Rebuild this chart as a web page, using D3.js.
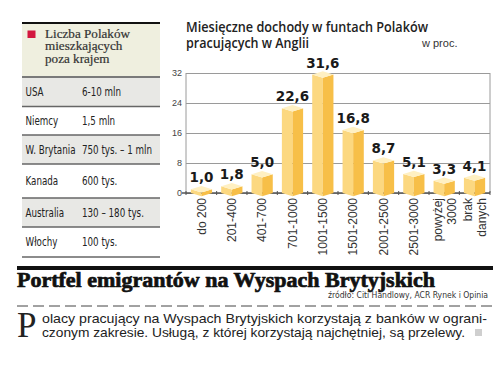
<!DOCTYPE html>
<html><head><meta charset="utf-8">
<script src="https://cdn.jsdelivr.net/npm/d3@7"></script>
<style>
html,body{margin:0;padding:0;background:#fff;}
svg{display:block;}
</style></head>
<body>
<svg id="c" width="500" height="376"></svg>
<script>
// ---- data ----
const categories = [["do 200"],["201-400"],["401-700"],["701-1000"],["1001-1500"],["1501-2000"],["2001-2500"],["2501-3000"],["powyżej","3000"],["brak","danych"]];
const values = [1.0, 1.8, 5.0, 22.6, 31.6, 16.8, 8.7, 5.1, 3.3, 4.1];
const yTicks = [0, 8, 16, 24, 32];
const countries = ["USA","Niemcy","W. Brytania","Kanada","Australia","Włochy"];
const counts = ["6-10 mln","1,5 mln","750 tys. – 1 mln","600 tys.","130 – 180 tys.","100 tys."];
const tableTitle = ["Liczba Polaków","mieszkających","poza krajem"];
const chartTitle = ["Miesięczne dochody w funtach Polaków","pracujących w Anglii"];
const unitLabel = "w proc.";
const headline = "Portfel emigrantów na Wyspach Brytyjskich";
const source = "źródło: Citi Handlowy, ACR Rynek i Opinia";
const bodyLines = ["olacy pracujący na Wyspach Brytyjskich korzystają z banków w ograni-","czonym zakresie. Usługą, z której korzystają najchętniej, są przelewy."];
const dropCap = "P";

const svg = d3.select("#c");
const narrow = "'Liberation Sans Narrow','DejaVu Sans',sans-serif";

// ---- left table ----
const tX0 = 22, tX1 = 160;
const rowEdges = [77, 106.5, 135, 164, 198, 227, 257];
const tbl = svg.append("g");
tbl.append("rect").attr("x", tX0).attr("y", 23).attr("width", tX1 - tX0).attr("height", 54).attr("fill", "#efefdf");
tbl.append("line").attr("x1", tX0).attr("x2", tX1).attr("y1", 23).attr("y2", 23).attr("stroke", "#111").attr("stroke-width", 2);
tbl.append("rect").attr("x", 27.5).attr("y", 30.5).attr("width", 8).attr("height", 7.5).attr("fill", "#d3173f");
const ttl = tbl.selectAll("text.tt").data(tableTitle).join("text")
  .attr("x", 45).attr("y", (d, i) => 37.5 + i * 12.7)
  .attr("font-family", "'Liberation Serif',serif").attr("font-size", 12.5)
  .attr("fill", "#333").attr("stroke", "#333").attr("stroke-width", 0.2).text(d => d);
{
  const k = 85 / ttl.nodes()[0].getComputedTextLength();
  ttl.each(function () { const L = this.getComputedTextLength(); d3.select(this).attr("textLength", L * k).attr("lengthAdjust", "spacingAndGlyphs"); });
}
const cellTexts = [];
countries.forEach((c, i) => {
  const y0 = rowEdges[i], y1 = rowEdges[i + 1];
  if (i % 2 === 0) tbl.append("rect").attr("x", tX0).attr("y", y0).attr("width", tX1 - tX0).attr("height", y1 - y0).attr("fill", "#e8e8e5");
  const yc = (y0 + y1) / 2 + 4.3;
  cellTexts.push(tbl.append("text").attr("x", 25.5).attr("y", yc).attr("font-family", narrow).attr("font-size", 12).attr("fill", "#222").text(c));
  cellTexts.push(tbl.append("text").attr("x", 82).attr("y", yc).attr("font-family", narrow).attr("font-size", 12).attr("fill", "#222").text(counts[i]));
});
{
  const k = Math.min(1, 50 / cellTexts[4].node().getComputedTextLength());
  cellTexts.forEach(t => { const L = t.node().getComputedTextLength(); t.attr("textLength", L * k).attr("lengthAdjust", "spacingAndGlyphs"); });
}
rowEdges.forEach((y, i) => {
  tbl.append("line").attr("x1", tX0).attr("x2", tX1).attr("y1", y).attr("y2", y)
    .attr("stroke", i === 0 ? "#7a7a7a" : "#666").attr("stroke-width", i === 0 ? 2 : 1.3);
});

// ---- chart ----
const y = d3.scaleLinear().domain([0, 32]).range([193, 73]);
const x = d3.scaleBand().domain(d3.range(categories.length)).range([186, 490]).paddingInner(0.3).paddingOuter(0.16);
const step = x.step();

svg.append("g").selectAll("text").data(chartTitle).join("text")
  .attr("x", 186).attr("y", (d, i) => 32 + i * 16)
  .attr("font-family", "'Open Sans',sans-serif").attr("font-weight", 600).attr("font-size", 13.5)
  .attr("fill", "#222").attr("textLength", (d, i) => i === 0 ? 242 : 123).attr("lengthAdjust", "spacingAndGlyphs")
  .text(d => d);
svg.append("text").attr("x", 422).attr("y", 47).attr("font-family", "'Liberation Sans',sans-serif").attr("font-size", 11).attr("fill", "#333").text(unitLabel);

const gAxis = svg.append("g").attr("transform", "translate(186,0)")
  .call(d3.axisLeft(y).tickValues(yTicks).tickSize(-304).tickPadding(4).tickFormat(d3.format("d")));
gAxis.select(".domain").remove();
gAxis.selectAll(".tick line").attr("stroke", "#9a9a9a").attr("stroke-width", 1);
gAxis.selectAll(".tick text").attr("font-family", "'Liberation Sans',sans-serif").attr("font-size", 9).attr("fill", "#444");
svg.append("line").attr("x1", 186).attr("x2", 186).attr("y1", y(32)).attr("y2", y(0)).attr("stroke", "#9a9a9a");
svg.append("line").attr("x1", 490).attr("x2", 490).attr("y1", y(32)).attr("y2", y(0)).attr("stroke", "#9a9a9a");
svg.append("line").attr("x1", 182).attr("x2", 490).attr("y1", y(0)).attr("y2", y(0)).attr("stroke", "#555").attr("stroke-width", 1.3);
const bounds = d3.range(categories.length + 1).map(i => i < categories.length ? x(i) - step * x.paddingInner() / 2 : 490);
bounds[0] = 186;
svg.append("g").selectAll("line").data(bounds).join("line")
  .attr("x1", d => d).attr("x2", d => d).attr("y1", y(0) - 2).attr("y2", y(0) + 2).attr("stroke", "#555");

// bars
const d = 3.2;
const bars = svg.append("g");
values.forEach((v, i) => {
  const xL = x(i), w = x.bandwidth(), xM = xL + w / 2, xR = xL + w;
  const yT = y(v), y0 = y(0);
  bars.append("path").attr("d", `M${xL},${yT}L${xM},${yT + d}L${xM},${y0 + d}L${xL},${y0}Z`).attr("fill", "#fcd880");
  bars.append("path").attr("d", `M${xM},${yT + d}L${xR},${yT}L${xR},${y0}L${xM},${y0 + d}Z`).attr("fill", "#f7bf48");
  bars.append("path").attr("d", `M${xL},${yT}L${xM},${yT - d}L${xR},${yT}L${xM},${yT + d}Z`).attr("fill", "#fff0c2");
  bars.append("text").attr("x", xM).attr("y", yT - 7).attr("text-anchor", "middle")
    .attr("font-family", "'DejaVu Sans',sans-serif").attr("font-weight", "bold").attr("font-size", 13.5)
    .attr("fill", "#1a1a1a").text(d3.format(".1f")(v).replace(".", ","));
});

// x labels
const xl = svg.append("g");
categories.forEach((lines, i) => {
  const xc = x(i) + x.bandwidth() / 2;
  lines.forEach((t, j) => {
    const off = lines.length === 1 ? 0 : (j === 0 ? -6.5 : 7.5);
    xl.append("text").attr("transform", `translate(${xc + off},198) rotate(-90)`)
      .attr("text-anchor", "end").attr("dy", "0.36em")
      .attr("font-family", "'Liberation Sans',sans-serif").attr("font-size", 12).attr("fill", "#333").text(t);
  });
});

// ---- bottom ----
svg.append("rect").attr("x", 17).attr("y", 266).attr("width", 476).attr("height", 4).attr("fill", "#111");
svg.append("text").attr("x", 17).attr("y", 287).attr("font-family", "'Liberation Serif',serif")
  .attr("font-weight", "bold").attr("font-size", 21).attr("fill", "#111").attr("stroke", "#111").attr("stroke-width", 0.7)
  .attr("textLength", 418).attr("lengthAdjust", "spacingAndGlyphs").text(headline);
svg.append("text").attr("x", 488).attr("y", 298).attr("text-anchor", "end").attr("font-family", narrow)
  .attr("font-size", 9).attr("fill", "#333").attr("textLength", 160).attr("lengthAdjust", "spacingAndGlyphs").text(source);
svg.append("line").attr("x1", 17).attr("x2", 493).attr("y1", 306).attr("y2", 306).attr("stroke", "#444").attr("stroke-dasharray", "11 5");
svg.append("text").attr("x", 17).attr("y", 337).attr("font-family", "'Liberation Serif',serif").attr("font-size", 35).attr("fill", "#222").text(dropCap);
svg.selectAll("text.body").data(bodyLines).join("text").attr("class", "body")
  .attr("x", 42).attr("y", (t, i) => 322.5 + i * 14.5)
  .attr("font-family", "'Liberation Sans',sans-serif").attr("font-size", 13).attr("fill", "#222")
  .attr("textLength", (t, i) => i === 0 ? 445 : 423).attr("lengthAdjust", "spacingAndGlyphs").text(t => t);
svg.append("rect").attr("x", 475).attr("y", 329).attr("width", 7).attr("height", 7).attr("fill", "#cfcfcf");
</script>
</body></html>
